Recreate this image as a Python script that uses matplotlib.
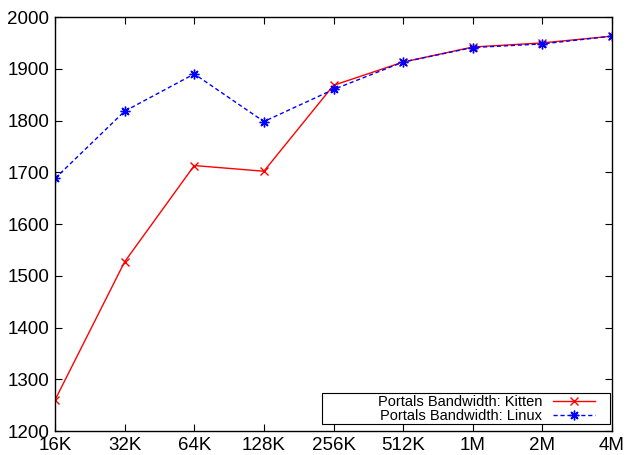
import matplotlib
matplotlib.use("Agg")
import matplotlib.pyplot as plt
from matplotlib.patches import Rectangle

# message sizes and measured bandwidth
sizes = ["16K", "32K", "64K", "128K", "256K", "512K", "1M", "2M", "4M"]
kitten = [1260, 1527, 1713, 1702, 1868, 1913, 1942, 1950, 1963]
linux = [1688, 1818, 1890, 1798, 1860, 1913, 1941, 1948, 1963]

plt.rcParams['font.family'] = ['Liberation Sans', 'DejaVu Sans']

fig = plt.figure(figsize=(6.26, 4.55), dpi=100)
ax = fig.add_axes([0.0879, 0.0527, 0.8897, 0.9099])

x = range(len(sizes))
ax.plot(x, kitten, color='red', lw=1, marker='x', ms=6, mew=1,
        label='Portals Bandwidth: Kitten')
ax.plot(x, linux, color='blue', lw=1, ls=(0, (3, 2)), marker=(8, 2, 0), ms=7, mew=1,
        label='Portals Bandwidth: Linux')

ax.set_xlim(0, len(sizes) - 1)
ax.set_ylim(1200, 2000)
ax.set_xticks(list(x))
ax.set_xticklabels(sizes)
ax.set_yticks(range(1200, 2001, 100))
ax.tick_params(direction='in', length=5, width=0.8, top=True, right=True,
               labelsize=13.5, pad=4)
for s in ax.spines.values():
    s.set_linewidth(1)

# gnuplot-style key: right-aligned text, sample on the right, wide box
leg = ax.legend(loc='lower right', bbox_to_anchor=(0.9695, 0.02), markerfirst=False,
                frameon=False, fontsize=10.5, handlelength=2.9, handletextpad=0.7,
                labelspacing=0.0, borderpad=0, borderaxespad=0)
ax.add_patch(Rectangle((0.479, 0.017), 0.517, 0.075, transform=ax.transAxes,
                       fill=True, facecolor='white', edgecolor='black', lw=0.8,
                       zorder=4))
leg.set_zorder(5)

fig.savefig('out.png', dpi=100)
